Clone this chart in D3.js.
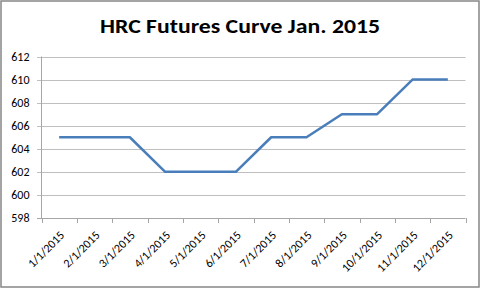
<!DOCTYPE html>
<html>
<head>
<meta charset="utf-8">
<script src="https://cdn.jsdelivr.net/npm/d3@7"></script>
<style>
  body { margin: 0; background: #fff; }
  text { font-family: Carlito, Calibri, Lato, sans-serif; }
</style>
</head>
<body>
<svg width="481" height="289"></svg>
<script>
const MONTHS = ['1/1/2015', '2/1/2015', '3/1/2015', '4/1/2015', '5/1/2015', '6/1/2015',
    '7/1/2015', '8/1/2015', '9/1/2015', '10/1/2015', '11/1/2015', '12/1/2015'];
const PRICES = [605, 605, 605, 602, 602, 602, 605, 605, 607, 607, 610, 610];
const Y_TICKS = [598, 600, 602, 604, 606, 608, 610, 612];

const svg = d3.select('svg');

// frame
svg.append('rect')
    .attr('x', 1).attr('y', 1)
    .attr('width', 478).attr('height', 286)
    .attr('fill', '#fff')
    .attr('stroke', '#868686')
    .attr('stroke-width', 1.5);

svg.append('text')
    .attr('x', 240)
    .attr('y', 32.5)
    .attr('text-anchor', 'middle')
    .style('font-size', '20px')
    .style('font-weight', 'bold')
    .attr('textLength', 280)
    .attr('lengthAdjust', 'spacingAndGlyphs')
    .text('HRC Futures Curve Jan. 2015');

const xScale = d3.scaleBand()
    .domain(MONTHS)
    .range([41.5, 465.5]);

const yScale = d3.scaleLinear()
    .domain([598, 612])
    .range([218, 56.5]);

// gridlines
svg.append('g')
    .selectAll('line')
    .data(Y_TICKS)
    .enter()
    .append('line')
    .attr('x1', 37)
    .attr('x2', 465.5)
    .attr('y1', d => Math.round(yScale(d)) + 0.5)
    .attr('y2', d => Math.round(yScale(d)) + 0.5)
    .attr('stroke', d => d === 598 ? '#a6a6a6' : '#bfbfbf')
    .attr('stroke-width', 1);

// y axis line
svg.append('line')
    .attr('x1', 41.5).attr('x2', 41.5)
    .attr('y1', yScale(612)).attr('y2', yScale(598) + 0.5)
    .attr('stroke', '#a6a6a6');

svg.append('g')
    .selectAll('text')
    .data(Y_TICKS)
    .enter()
    .append('text')
    .attr('x', 29.5)
    .attr('y', d => yScale(d) + 4)
    .attr('text-anchor', 'end')
    .style('font-size', '12px')
    .attr('fill', '#000')
    .text(d => d);

// x ticks at band edges
const edges = MONTHS.map(m => xScale(m)).concat([xScale.range()[1]]);
svg.append('g')
    .selectAll('line')
    .data(edges)
    .enter()
    .append('line')
    .attr('x1', d => Math.round(d) + 0.5)
    .attr('x2', d => Math.round(d) + 0.5)
    .attr('y1', Math.round(yScale(598)))
    .attr('y2', Math.round(yScale(598)) + 5)
    .attr('stroke', '#a6a6a6');

svg.append('g')
    .selectAll('text')
    .data(MONTHS)
    .enter()
    .append('text')
    .attr('transform', d => `translate(${xScale(d) + xScale.bandwidth() / 2 + 3},${yScale(598) + 15}) rotate(-45)`)
    .attr('text-anchor', 'end')
    .attr('dy', '0.35em')
    .style('font-size', '12px')
    .attr('fill', '#000')
    .text(d => d);

const line = d3.line()
    .x((d, i) => xScale(MONTHS[i]) + xScale.bandwidth() / 2)
    .y(d => yScale(d));

svg.append('path')
    .datum(PRICES)
    .attr('d', line)
    .attr('fill', 'none')
    .attr('stroke', '#4a7ebb')
    .attr('stroke-width', 2.5)
    .attr('stroke-linejoin', 'round');
</script>
</body>
</html>
